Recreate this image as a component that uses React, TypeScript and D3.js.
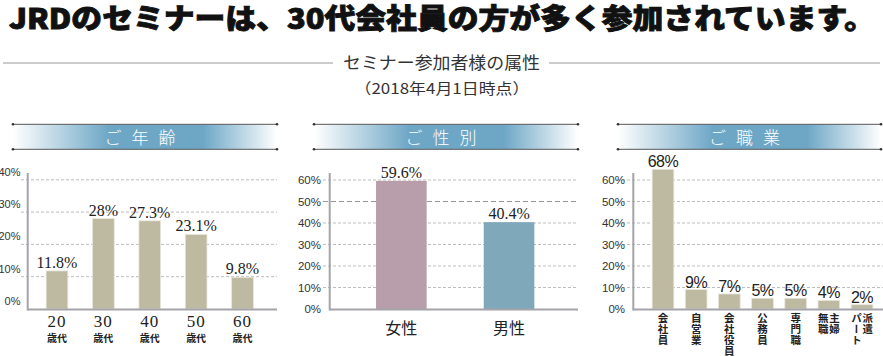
import React from 'react';
import * as d3 from 'd3';

const titleText = 'JRDのセミナーは、30代会社員の方が多く参加されています。';
const subtitleText = 'セミナー参加者様の属性';
const dateText = '（2018年4月1日時点）';

const headerTitles = ['ご年齢', 'ご性別', 'ご職業'];

const ageCategories = ['20', '30', '40', '50', '60'];
const ageSuffix = '歳代';
const ageValues = [11.8, 28, 27.3, 23.1, 9.8];
const ageTicks = [0, 10, 20, 30, 40];

const genderCategories = ['女性', '男性'];
const genderValues = [59.6, 40.4];
const genderColors = ['#b89eaa', '#7fa8bb'];
const genderTicks = [0, 10, 20, 30, 40, 50, 60];

const jobCategories = [['会社員'], ['自営業'], ['会社役員'], ['公務員'], ['専門職'], ['主婦', '無職'], ['派遣', 'パート']];
const jobValues = [68, 9, 7, 5, 5, 4, 2];
const jobTicks = [0, 10, 20, 30, 40, 50, 60];

const KHAKI = '#bebaa1';
const JP = '"Noto Sans CJK JP", sans-serif';
const SERIF = '"Liberation Serif", "DejaVu Serif", serif';
const SANS = '"Liberation Sans", Arial, sans-serif';

const fmt = (v: number) => `${v}%`;

function Header({ x0, x1, title, id }: { x0: number; x1: number; title: string; id: string }) {
  const cx = (x0 + x1) / 2 - 5;
  const chars = Array.from(title);
  return (
    <g>
      <defs>
        <linearGradient id={id} x1="0" x2="1" y1="0" y2="0">
          <stop offset="0" stopColor="#ffffff" />
          <stop offset="0.36" stopColor="#6ea7c6" />
          <stop offset="0.72" stopColor="#6ea7c6" />
          <stop offset="1" stopColor="#ffffff" />
        </linearGradient>
      </defs>
      <rect x={x0} y={124.5} width={x1 - x0} height={24.5} fill={`url(#${id})`} />
      {[124.3, 149.3].map((y) => (
        <g key={y}>
          <line x1={x0} x2={x1} y1={y} y2={y} stroke="#555" strokeWidth={1} />
          <circle cx={x0} cy={y} r={1.3} fill="#333" />
          <circle cx={x1} cy={y} r={1.3} fill="#333" />
        </g>
      ))}
      {chars.map((c, i) => (
        <text key={i} x={cx + (i - 1) * 27} y={143.5} textAnchor="middle" fontFamily={JP} fontSize={17} fontWeight={300} fill="#ffffff">
          {c}
        </text>
      ))}
    </g>
  );
}

function Grid({ y, ticks, gx0, gx1, special }: { y: d3.ScaleLinear<number, number>; ticks: number[]; gx0: number; gx1: number; special?: number }) {
  return (
    <g>
      {ticks.filter((t) => t > 0).map((t) => (
        <line
          key={t}
          x1={gx0}
          x2={gx1}
          y1={y(t)}
          y2={y(t)}
          stroke={t === special ? '#999' : '#bdbdbd'}
          strokeWidth={1}
          strokeDasharray={t === special ? '5,3' : '3,2'}
        />
      ))}
    </g>
  );
}

function Axes({ ax, top, base, right }: { ax: number; top: number; base: number; right: number }) {
  return (
    <g>
      <line x1={ax} x2={right} y1={base} y2={base} stroke="#a4a4aa" strokeWidth={2} />
      <line x1={ax} x2={ax} y1={top} y2={base + 1} stroke="#a4a4aa" strokeWidth={2} />
    </g>
  );
}

export default function App() {
  // Panel 1: age
  const x1 = d3.scaleBand<string>().domain(ageCategories).range([33.8, 265.7]).paddingInner(0.532).paddingOuter(0.266);
  const y1 = d3.scaleLinear().domain([0, 40]).range([309, 179.8]);

  // Panel 2: gender
  const x2 = d3.scaleBand<string>().domain(genderCategories).range([347.5, 562.9]).paddingInner(0.53).paddingOuter(0.265);
  const y2 = d3.scaleLinear().domain([0, 60]).range([309, 180]);

  // Panel 3: jobs
  const jobKeys = jobCategories.map((c) => c.join(''));
  const x3 = d3.scaleBand<string>().domain(jobKeys).range([646.4, 878.6]).paddingInner(0.346).paddingOuter(0.173);
  const y3 = d3.scaleLinear().domain([0, 65]).range([309, 169.25]).clamp(true);

  return (
    <svg width={883} height={356} style={{ position: 'absolute', left: 0, top: 0, background: '#fff' }}>
      {/* Title */}
      <text x={9} y={29} fontFamily={JP} fontWeight={900} fontSize={28} fill="#111" stroke="#111" strokeWidth={0.9} textLength={866} lengthAdjust="spacingAndGlyphs">
        {titleText}
      </text>
      <line x1={3} x2={333} y1={63} y2={63} stroke="#999" strokeWidth={1} />
      <line x1={549} x2={880} y1={63} y2={63} stroke="#999" strokeWidth={1} />
      <text x={441.5} y={68.5} textAnchor="middle" fontFamily={JP} fontSize={17} fontWeight={400} fill="#333" textLength={197} lengthAdjust="spacingAndGlyphs">
        {subtitleText}
      </text>
      <text x={442} y={93.5} textAnchor="middle" fontFamily={JP} fontSize={15} fontWeight={400} fill="#333" textLength={175} lengthAdjust="spacingAndGlyphs">
        {dateText}
      </text>

      <Header x0={13} x1={277} title={headerTitles[0]} id="hg1" />
      <Header x0={314} x1={578} title={headerTitles[1]} id="hg2" />
      <Header x0={618} x1={881} title={headerTitles[2]} id="hg3" />

      {/* Panel 1 */}
      <Grid y={y1} ticks={ageTicks} gx0={21} gx1={277} />
      {ageTicks.map((t) => (
        <text key={t} x={20.5} y={y1(t) - 4} textAnchor="end" fontFamily={SANS} fontSize={11} fill="#333">
          {fmt(t)}
        </text>
      ))}
      {ageCategories.map((c, i) => (
        <g key={c}>
          <rect x={x1(c)} y={y1(ageValues[i])} width={x1.bandwidth()} height={y1(0) - y1(ageValues[i])} fill={KHAKI} stroke="#e9e7dc" strokeWidth={0.8} />
          <text x={x1(c)! + x1.bandwidth() / 2} y={y1(ageValues[i]) - 3} textAnchor="middle" fontFamily={SERIF} fontSize={16} fill="#222">
            {fmt(ageValues[i])}
          </text>
          <text x={x1(c)! + x1.bandwidth() / 2} y={327} textAnchor="middle" fontFamily={SERIF} fontSize={17} fill="#222" letterSpacing={1}>
            {c}
          </text>
          <text x={x1(c)! + x1.bandwidth() / 2} y={342} textAnchor="middle" fontFamily={JP} fontWeight={700} fontSize={10} fill="#222">
            {ageSuffix}
          </text>
        </g>
      ))}
      <Axes ax={27.7} top={173} base={309.5} right={277} />

      {/* Panel 2 */}
      <Grid y={y2} ticks={genderTicks} gx0={323} gx1={578} special={50} />
      {genderTicks.map((t) => (
        <text key={t} x={321} y={y2(t) + 4} textAnchor="end" fontFamily={SANS} fontSize={11.5} fill="#333">
          {fmt(t)}
        </text>
      ))}
      {genderCategories.map((c, i) => (
        <g key={c}>
          <rect x={x2(c)} y={y2(genderValues[i])} width={x2.bandwidth()} height={y2(0) - y2(genderValues[i])} fill={genderColors[i]} />
          <text x={x2(c)! + x2.bandwidth() / 2} y={y2(genderValues[i]) - 3} textAnchor="middle" fontFamily={SERIF} fontSize={16} fill="#222">
            {fmt(genderValues[i])}
          </text>
          <text x={x2(c)! + x2.bandwidth() / 2} y={334} textAnchor="middle" fontFamily={JP} fontWeight={400} fontSize={16} fill="#222">
            {c}
          </text>
        </g>
      ))}
      <Axes ax={329.7} top={173} base={309.5} right={578} />

      {/* Panel 3 */}
      <Grid y={y3} ticks={jobTicks} gx0={617} gx1={883} />
      {jobTicks.map((t) => (
        <text key={t} x={625} y={y3(t) + 4} textAnchor="end" fontFamily={SANS} fontSize={11.5} fill="#333">
          {fmt(t)}
        </text>
      ))}
      {jobKeys.map((k, i) => {
        const cx = x3(k)! + x3.bandwidth() / 2;
        const cols = jobCategories[i];
        return (
          <g key={k}>
            <rect x={x3(k)} y={y3(jobValues[i])} width={x3.bandwidth()} height={y3(0) - y3(jobValues[i])} fill={KHAKI} stroke="#e9e7dc" strokeWidth={0.8} />
            <text x={cx} y={y3(jobValues[i]) - 2} textAnchor="middle" fontFamily={SANS} fontSize={16} fill="#222" letterSpacing={-0.5}>
              {fmt(jobValues[i])}
            </text>
            {cols.map((col, ci) => {
              const colX = cols.length === 1 ? cx : cx + (ci === 0 ? 5.7 : -5.5);
              return (
                <text
                  key={ci}
                  x={colX}
                  y={312.5}
                  fontFamily={JP}
                  fontWeight={700}
                  fontSize={10.5}
                  fill="#222"
                  letterSpacing={0.5}
                  style={{ writingMode: 'vertical-rl', textOrientation: 'upright' } as React.CSSProperties}
                >
                  {col}
                </text>
              );
            })}
          </g>
        );
      })}
      <Axes ax={633.3} top={173} base={309.5} right={883} />
    </svg>
  );
}
